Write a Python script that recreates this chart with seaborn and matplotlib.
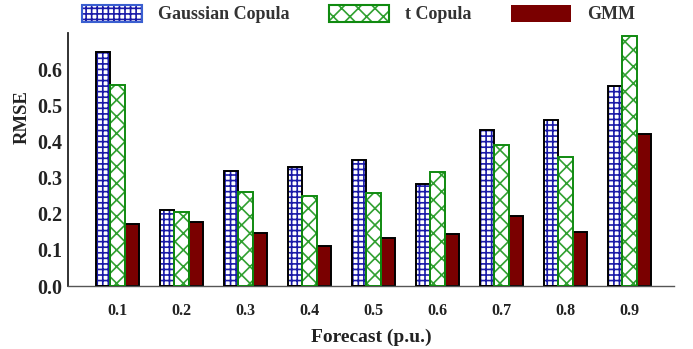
import matplotlib
matplotlib.use("Agg")
import matplotlib.pyplot as plt
import matplotlib.patches as mpatches
from matplotlib.legend_handler import HandlerTuple
import seaborn as sns
import pandas as pd

# ---- data ----
forecast = ["0.1", "0.2", "0.3", "0.4", "0.5", "0.6", "0.7", "0.8", "0.9"]
methods = ["Gaussian Copula", "t Copula", "GMM"]
gaussian = [0.648, 0.209, 0.319, 0.329, 0.348, 0.281, 0.431, 0.459, 0.554]
t_copula = [0.556, 0.204, 0.259, 0.248, 0.256, 0.315, 0.390, 0.357, 0.693]
gmm = [0.172, 0.177, 0.148, 0.111, 0.132, 0.145, 0.193, 0.150, 0.421]
yticks = [0.0, 0.1, 0.2, 0.3, 0.4, 0.5, 0.6]

sns.set_style("white")
plt.rcParams["font.family"] = ["Liberation Serif", "DejaVu Serif"]
plt.rcParams["font.weight"] = "bold"
plt.rcParams["hatch.linewidth"] = 1.2

df = pd.DataFrame({
    "Forecast": forecast * 3,
    "Method": [methods[0]] * 9 + [methods[1]] * 9 + [methods[2]] * 9,
    "RMSE": gaussian + t_copula + gmm,
})

navy = "#1a1aa8"
green = "#108a10"
tgreen = "#30a030"
maroon = "#7a0000"

fig = plt.figure(figsize=(6.93, 3.49), dpi=100)
ax = fig.add_axes([68 / 693, 1 - 286 / 349, 606 / 693, 253 / 349])

sns.barplot(data=df, x="Forecast", y="RMSE", hue="Method", order=forecast,
            hue_order=methods, width=0.67, errorbar=None, saturation=1,
            palette={methods[0]: "white", methods[1]: "white", methods[2]: maroon},
            legend=False, ax=ax)

# style bars
for p in ax.containers[0]:
    p.set_edgecolor(navy)
    p.set_hatch("+++")
    p.set_linewidth(0)
    ax.add_patch(mpatches.Rectangle(p.get_xy(), p.get_width(), p.get_height(),
                                    fill=False, edgecolor="black", linewidth=1.4, zorder=3))
for p in ax.containers[1]:
    p.set_edgecolor(tgreen)
    p.set_hatch("xx")
    p.set_linewidth(0)
    ax.add_patch(mpatches.Rectangle(p.get_xy(), p.get_width(), p.get_height(),
                                    fill=False, edgecolor=green, linewidth=1.4, zorder=3))
for p in ax.containers[2]:
    p.set_edgecolor("black")
    p.set_linewidth(1.4)

ax.set_xlim(-0.773, 8.695)
ax.set_ylim(0, 0.70)
ax.set_yticks(yticks)
ax.set_yticklabels([f"{v:.1f}" for v in yticks])

for s in ["top", "right"]:
    ax.spines[s].set_visible(False)
ax.spines["left"].set_color("#222222")
ax.spines["left"].set_linewidth(1.3)
ax.spines["bottom"].set_color("#555555")
ax.spines["bottom"].set_linewidth(1.0)

ax.tick_params(axis="y", direction="in", length=5, width=1, color="#222222",
               labelsize=14.5, pad=4)
ax.tick_params(axis="x", length=0, labelsize=11.5, pad=12)
for lab in ax.get_xticklabels() + ax.get_yticklabels():
    lab.set_fontweight("bold")
    lab.set_color("#222222")

ax.set_xlabel("Forecast (p.u.)", fontsize=14, fontweight="bold", color="#222222", labelpad=7)
ax.set_ylabel("RMSE", fontsize=13.5, fontweight="bold", color="#222222")
ax.yaxis.set_label_coords(-0.062, 0.666)

# legend
h1 = (mpatches.Patch(facecolor="white", edgecolor=navy, hatch="+++", linewidth=0),
      mpatches.Patch(fill=False, edgecolor="#3a5fd0", linewidth=1.5))
h2 = (mpatches.Patch(facecolor="white", edgecolor=tgreen, hatch="xx", linewidth=0),
      mpatches.Patch(fill=False, edgecolor=green, linewidth=1.5))
h3 = mpatches.Patch(facecolor=maroon, edgecolor=maroon, linewidth=0)
leg = fig.legend([h1, h2, h3], methods, loc="center",
                 bbox_to_anchor=(358.5 / 693, 1 - 14 / 349), ncol=3, frameon=False,
                 prop={"family": "Liberation Serif", "weight": "bold", "size": 13},
                 handlelength=3.3, handleheight=1.1, handletextpad=0.9,
                 columnspacing=2.2, borderpad=0,
                 handler_map={tuple: HandlerTuple(ndivide=1)})
for t in leg.get_texts():
    t.set_color("#333333")

fig.savefig("out.png", dpi=100)
